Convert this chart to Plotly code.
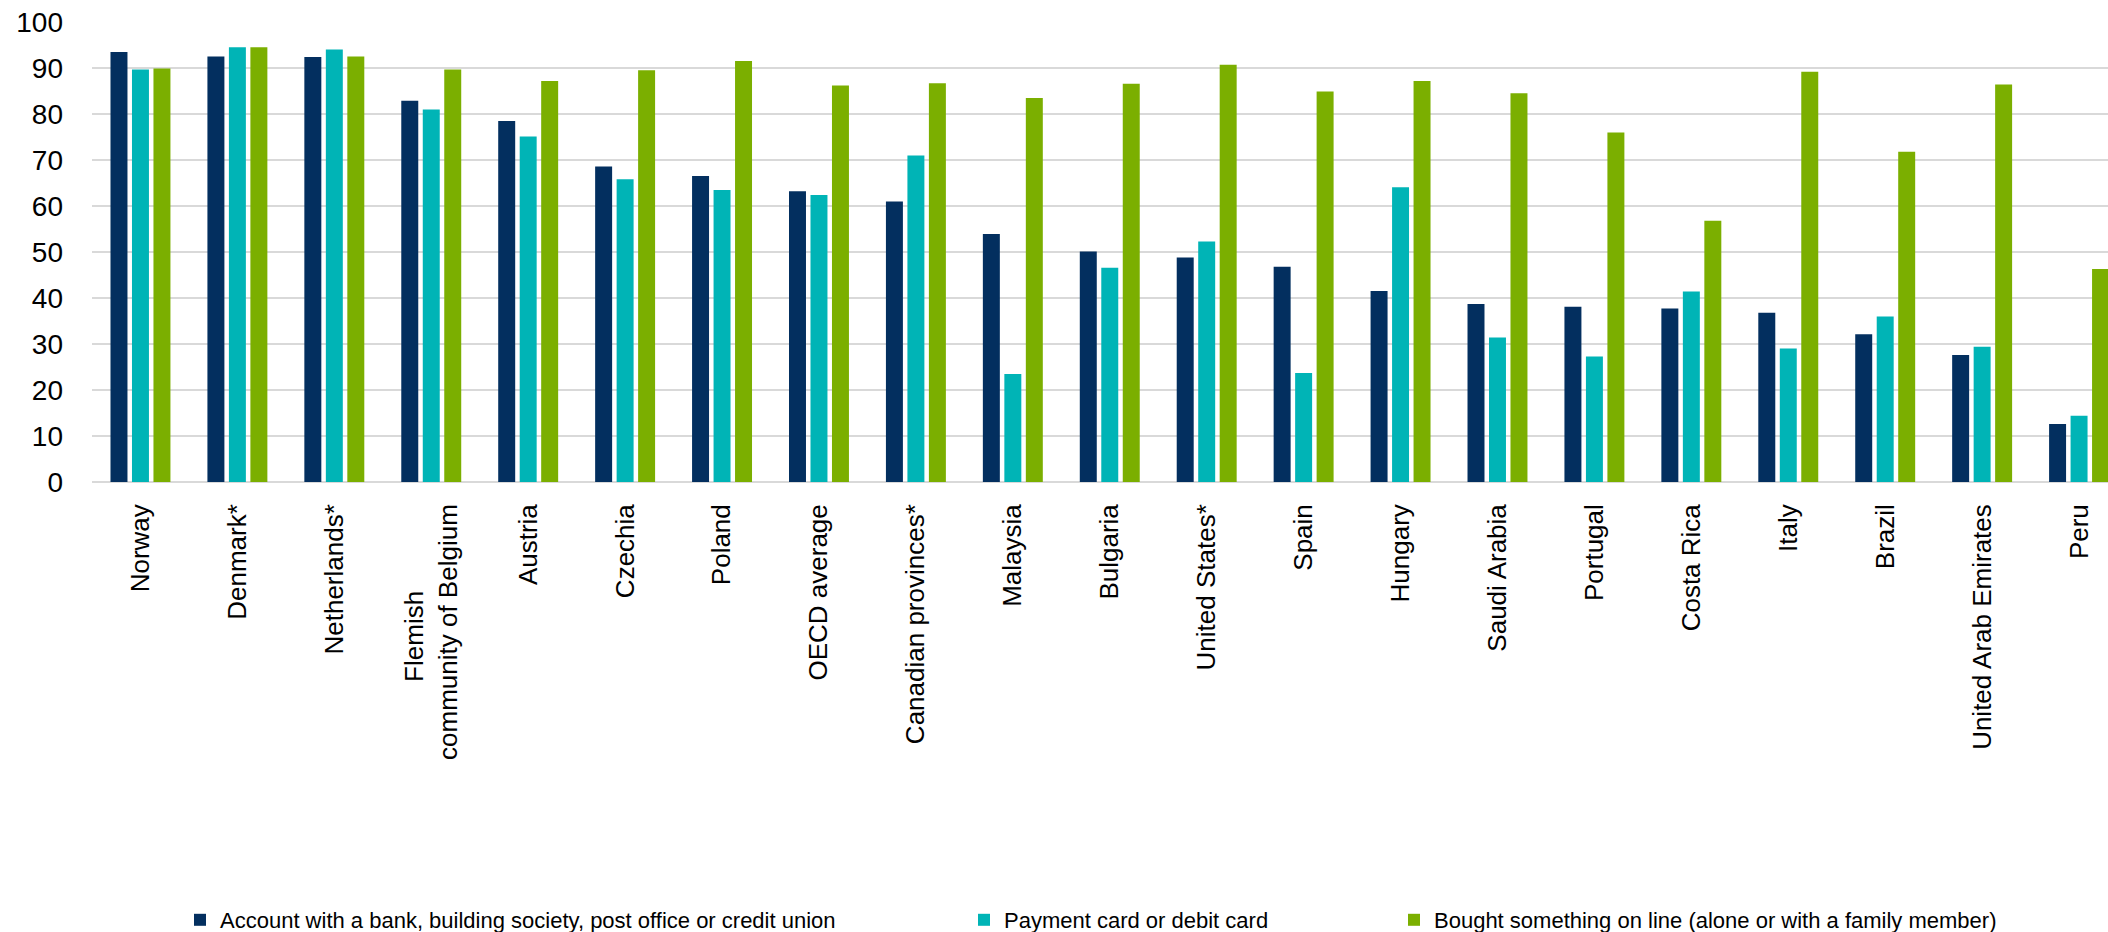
import plotly.graph_objects as go

NBSP = "\u00a0"

categories = [
    "Norway", "Denmark*", "Netherlands*",
    "Flemish" + NBSP * 12 + "<br>community of Belgium",
    "Austria", "Czechia", "Poland", "OECD average", "Canadian provinces*",
    "Malaysia", "Bulgaria", "United States*", "Spain", "Hungary",
    "Saudi Arabia", "Portugal", "Costa Rica", "Italy", "Brazil",
    "United Arab Emirates", "Peru",
]

account = [93.5, 92.5, 92.4, 82.9, 78.5, 68.6, 66.5, 63.2, 61.0, 53.9,
           50.1, 48.8, 46.8, 41.5, 38.7, 38.1, 37.7, 36.8, 32.1, 27.6, 12.6]
card = [89.7, 94.5, 94.0, 81.0, 75.1, 65.8, 63.5, 62.4, 71.0, 23.5,
        46.6, 52.3, 23.7, 64.1, 31.4, 27.3, 41.4, 29.0, 36.0, 29.4, 14.4]
online = [89.9, 94.5, 92.5, 89.7, 87.2, 89.5, 91.5, 86.2, 86.7, 83.5,
          86.6, 90.7, 84.9, 87.2, 84.5, 76.0, 56.8, 89.2, 71.8, 86.4, 46.3]

series_names = [
    "Account with a bank, building society, post office or credit union",
    "Payment card or debit card",
    "Bought something on line (alone or with a family member)",
]
colors = ["#032F5F", "#00B4B6", "#7BAF00"]
y_ticks = [0, 10, 20, 30, 40, 50, 60, 70, 80, 90, 100]

W, H = 2108, 932
ML, MR, MT, MB = 92, 0, 22, 450
plot_w = W - ML - MR
plot_h = H - MT - MB

REG = "Liberation Sans, Arial, sans-serif"

fig = go.Figure()
legend_names = ["legend", "legend2", "legend3"]
for name, vals, col, lg in zip(series_names, [account, card, online], colors, legend_names):
    fig.add_trace(go.Bar(
        x=list(range(len(categories))), y=vals, name=name,
        marker=dict(color=col, line=dict(width=0)),
        legend=lg, hoverinfo="y+name",
    ))

step = 96.93
x_max = -0.5 + plot_w / step

def legx(px):
    return (px - ML) / plot_w

leg_y = (MT + plot_h - 920) / plot_h
legend_common = dict(orientation="h", yanchor="middle", y=leg_y, xanchor="left",
                     font=dict(family=REG, size=22, color="#000000"),
                     bgcolor="rgba(0,0,0,0)", itemclick=False)

fig.update_layout(
    width=W, height=H,
    margin=dict(l=ML, r=MR, t=MT, b=MB, pad=0, autoexpand=False),
    paper_bgcolor="white", plot_bgcolor="white",
    barmode="group", bargap=0.335, bargroupgap=0.21,
    showlegend=True,
    legend=dict(x=legx(180), **legend_common),
    legend2=dict(x=legx(964), **legend_common),
    legend3=dict(x=legx(1394), **legend_common),
    xaxis=dict(
        range=[-0.5, x_max], tickmode="array",
        tickvals=list(range(len(categories))), ticktext=categories,
        tickangle=-90, ticks="", showgrid=False, showline=False, zeroline=False,
        tickfont=dict(family=REG, size=26, color="#000000"),
        ticklabelstandoff=16, fixedrange=True, automargin=False,
    ),
    yaxis=dict(
        range=[0, 100], tickmode="array", tickvals=y_ticks,
        ticktext=[str(v) for v in y_ticks],
        showgrid=True, gridcolor="#D9D9D9", gridwidth=2,
        zeroline=True, zerolinecolor="#D9D9D9", zerolinewidth=2,
        showline=False, ticks="",
        tickfont=dict(family=REG, size=28, color="#000000"),
        ticklabelstandoff=28, fixedrange=True, automargin=False,
    ),
)

fig.write_html("out.html")
